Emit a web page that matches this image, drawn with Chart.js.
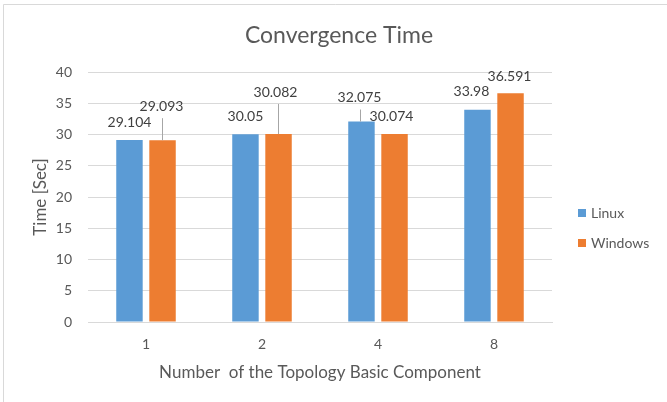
<!DOCTYPE html>
<html>
<head>
<meta charset="utf-8">
<script src="https://cdn.jsdelivr.net/npm/chart.js@4"></script>
<style>
  html, body { margin: 0; padding: 0; background: #fff; }
  #c { display: block; }
</style>
</head>
<body>
<canvas id="c" width="667" height="402"></canvas>
<script>
// Convergence Time chart: Linux vs Windows bars, Excel-like look.
const categorias = ["1", "2", "4", "8"];
const linux = [29.104, 30.05, 32.075, 33.98];
const windows = [29.093, 30.082, 30.074, 36.591];
const serieNomes = ["Linux", "Windows"];
const yTicks = [0, 5, 10, 15, 20, 25, 30, 35, 40];

const C = { azul: "#5B9BD5", laranja: "#ED7D31", grade: "#D9D9D9", texto: "#595959", rotulo: "#404040" };
const FONTE = "Lato, 'Open Sans', sans-serif";

// where each data label sits relative to the top of its bar (Excel had them dragged around)
const rotuloPos = [
  [{ dx: 0, dy: -18 }, { dx: 0, dy: -18 }, { dx: -2, dy: -24, linha: true }, { dx: -6, dy: -18 }],
  [{ dx: -1, dy: -34, linha: true }, { dx: -3, dy: -42, linha: true }, { dx: -3, dy: -18 }, { dx: -1, dy: -17 }],
];

const moldura = {
  id: "moldura",
  beforeDraw(chart) {
    const { ctx } = chart;
    ctx.save();
    ctx.fillStyle = "#fff";
    ctx.fillRect(0, 0, chart.width, chart.height);
    ctx.strokeStyle = C.grade; ctx.lineWidth = 1;
    ctx.beginPath(); ctx.moveTo(3.5, chart.height); ctx.lineTo(3.5, 4.5); ctx.lineTo(chart.width, 4.5); ctx.stroke();
    ctx.restore();
  },
  afterDraw(chart) {
    const { ctx } = chart;
    ctx.save();
    // title
    ctx.fillStyle = C.texto; ctx.font = "23px " + FONTE;
    ctx.textAlign = "center"; ctx.textBaseline = "alphabetic";
    ctx.fillText("Convergence Time", 339, 43);
    // legend
    ctx.textBaseline = "middle";
    ctx.font = "14px " + FONTE; ctx.textAlign = "left";
    chart.data.datasets.forEach((ds, i) => {
      const y = 213 + i * 30;
      ctx.fillStyle = ds.backgroundColor;
      ctx.fillRect(578, y - 4, 8, 8);
      ctx.fillStyle = C.texto;
      ctx.fillText(ds.label, 591, y);
    });
    // data labels
    ctx.font = "14px " + FONTE; ctx.textAlign = "center";
    chart.data.datasets.forEach((ds, i) => {
      chart.getDatasetMeta(i).data.forEach((bar, j) => {
        const p = rotuloPos[i][j];
        const x = bar.x + p.dx, y = bar.y + p.dy;
        if (p.linha) {
          ctx.strokeStyle = "#A6A6A6"; ctx.lineWidth = 1;
          ctx.beginPath(); ctx.moveTo(Math.round(bar.x) - 0.5, y + 12); ctx.lineTo(Math.round(bar.x) - 0.5, bar.y); ctx.stroke();
        }
        ctx.fillStyle = C.rotulo;
        ctx.fillText(String(ds.data[j]), x, y);
      });
    });
    ctx.restore();
  },
};

new Chart(document.getElementById("c"), {
  type: "bar",
  data: {
    labels: categorias,
    datasets: [
      { label: serieNomes[0], data: linux, backgroundColor: C.azul },
      { label: serieNomes[1], data: windows, backgroundColor: C.laranja },
    ],
  },
  options: {
    responsive: false, animation: false,
    layout: { padding: { top: 72, right: 115, bottom: 0, left: 0 } },
    datasets: { bar: { categoryPercentage: 0.57, barPercentage: 0.8 } },
    plugins: { legend: { display: false }, title: { display: false }, tooltip: { enabled: false } },
    scales: {
      x: {
        grid: { display: false, drawTicks: false },
        border: { color: C.grade },
        ticks: { color: C.texto, font: { family: FONTE, size: 14 }, padding: 14 },
        title: { display: true, text: "Number  of the Topology Basic Component", color: C.texto, font: { family: FONTE, size: 17 }, padding: { top: 0, bottom: 19 } },
        afterFit: (s) => { s.height = 80; },
      },
      y: {
        min: 0, max: 40,
        afterBuildTicks: (s) => { s.ticks = yTicks.map((v) => ({ value: v })); },
        grid: { color: C.grade, drawTicks: false },
        border: { display: false },
        ticks: { color: C.texto, font: { family: FONTE, size: 14 }, padding: 16 },
        title: { display: true, text: "Time [Sec]", color: C.texto, font: { family: FONTE, size: 17 }, padding: { top: 30, bottom: 0 } },
        afterFit: (s) => { s.width = 88; },
      },
    },
  },
  plugins: [moldura],
});
</script>
</body>
</html>
